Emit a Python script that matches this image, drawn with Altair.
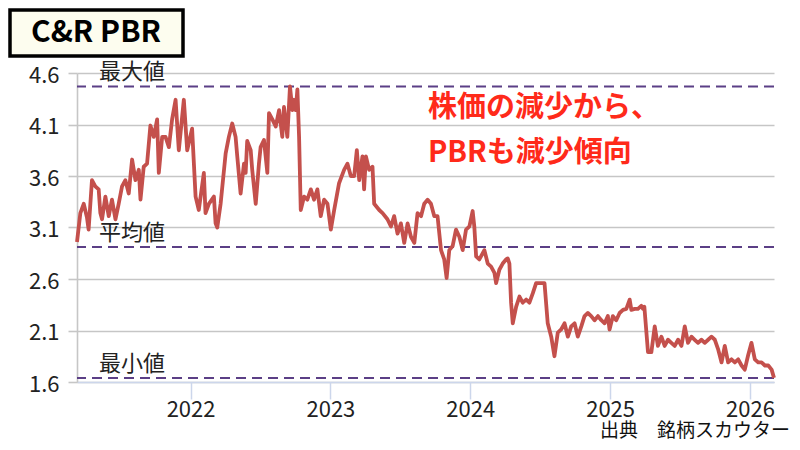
import altair as alt
import pandas as pd

# ---- data ----
years = [
    2021.188, 2021.212, 2021.236, 2021.259, 2021.271, 2021.295, 2021.319, 2021.343, 2021.355, 2021.367,
    2021.391, 2021.415, 2021.438, 2021.463, 2021.486, 2021.510, 2021.534, 2021.558, 2021.582, 2021.606,
    2021.630, 2021.642, 2021.665, 2021.689, 2021.713, 2021.737, 2021.761, 2021.773, 2021.797, 2021.821,
    2021.845, 2021.868, 2021.893, 2021.916, 2021.952, 2021.976, 2022.011, 2022.036, 2022.059, 2022.095,
    2022.107, 2022.131, 2022.167, 2022.179, 2022.191, 2022.215, 2022.251, 2022.274, 2022.298, 2022.322,
    2022.334, 2022.358, 2022.382, 2022.394, 2022.405, 2022.430, 2022.441, 2022.466, 2022.489, 2022.501,
    2022.525, 2022.549, 2022.561, 2022.585, 2022.609, 2022.633, 2022.656, 2022.668, 2022.692, 2022.711,
    2022.728, 2022.740, 2022.752, 2022.764, 2022.776, 2022.788, 2022.812, 2022.835, 2022.860, 2022.883,
    2022.907, 2022.931, 2022.955, 2022.979, 2023.003, 2023.027, 2023.062, 2023.098, 2023.122, 2023.146,
    2023.170, 2023.189, 2023.206, 2023.229, 2023.241, 2023.254, 2023.277, 2023.301, 2023.313, 2023.349,
    2023.373, 2023.408, 2023.433, 2023.456, 2023.480, 2023.504, 2023.528, 2023.552, 2023.576, 2023.600,
    2023.623, 2023.648, 2023.671, 2023.695, 2023.719, 2023.743, 2023.766, 2023.791, 2023.814, 2023.831,
    2023.850, 2023.874, 2023.898, 2023.922, 2023.946, 2023.970, 2023.994, 2024.017, 2024.029, 2024.042,
    2024.065, 2024.101, 2024.125, 2024.149, 2024.173, 2024.185, 2024.208, 2024.232, 2024.256, 2024.268,
    2024.280, 2024.292, 2024.304, 2024.328, 2024.352, 2024.375, 2024.400, 2024.423, 2024.447, 2024.471,
    2024.507, 2024.531, 2024.554, 2024.579, 2024.602, 2024.626, 2024.650, 2024.674, 2024.698, 2024.722,
    2024.746, 2024.769, 2024.794, 2024.817, 2024.841, 2024.865, 2024.889, 2024.913, 2024.937, 2024.961,
    2024.984, 2024.996, 2025.020, 2025.044, 2025.068, 2025.092, 2025.116, 2025.140, 2025.152, 2025.176,
    2025.199, 2025.223, 2025.235, 2025.245, 2025.271, 2025.295, 2025.319, 2025.342, 2025.367, 2025.390,
    2025.414, 2025.438, 2025.462, 2025.486, 2025.510, 2025.534, 2025.557, 2025.582, 2025.605, 2025.629,
    2025.653, 2025.677, 2025.701, 2025.725, 2025.749, 2025.772, 2025.797, 2025.820, 2025.844, 2025.868,
    2025.892, 2025.916, 2025.940, 2025.963, 2025.987, 2026.011, 2026.035, 2026.059, 2026.083, 2026.107,
    2026.131, 2026.155, 2026.172,
]
pbr = [
    2.96, 3.24, 3.33, 3.20, 3.08, 3.56, 3.50, 3.47, 3.24, 3.18,
    3.40, 3.21, 3.37, 3.18, 3.33, 3.50, 3.56, 3.43, 3.76, 3.56,
    3.66, 3.37, 3.69, 3.72, 4.09, 3.98, 4.15, 3.63, 3.98, 3.98,
    3.88, 4.15, 4.34, 3.85, 4.34, 3.85, 4.06, 3.40, 3.27, 3.63,
    3.24, 3.33, 3.40, 3.14, 3.10, 3.33, 3.82, 3.98, 4.11, 3.98,
    3.79, 3.43, 3.72, 3.63, 3.94, 3.85, 3.66, 3.33, 3.72, 3.88,
    3.95, 3.63, 4.21, 4.15, 4.08, 4.24, 3.98, 4.27, 3.98, 4.47,
    4.24, 4.34, 4.24, 4.44, 3.98, 3.27, 3.40, 3.37, 3.47, 3.37,
    3.47, 3.21, 3.37, 3.33, 3.08, 3.27, 3.53, 3.66, 3.72, 3.60,
    3.60, 3.85, 3.56, 3.79, 3.47, 3.79, 3.66, 3.69, 3.33, 3.27,
    3.24, 3.18, 3.11, 3.21, 3.04, 3.14, 2.95, 3.14, 3.01, 2.95,
    3.24, 3.21, 3.33, 3.37, 3.33, 3.21, 3.21, 2.88, 2.79, 2.61,
    2.88, 2.92, 3.08, 3.01, 2.88, 3.08, 3.11, 3.26, 3.11, 2.82,
    2.79, 2.88, 2.75, 2.72, 2.66, 2.56, 2.69, 2.75, 2.79, 2.80,
    2.75, 2.37, 2.17, 2.33, 2.43, 2.37, 2.40, 2.37, 2.46, 2.56,
    2.56, 2.56, 2.17, 2.04, 1.85, 2.08, 2.11, 2.17, 2.04, 2.14,
    2.17, 2.04, 2.14, 2.24, 2.27, 2.24, 2.20, 2.24, 2.20, 2.17,
    2.24, 2.11, 2.24, 2.20, 2.27, 2.30, 2.31, 2.40, 2.30, 2.31,
    2.31, 2.34, 2.31, 2.33, 1.89, 1.89, 2.14, 1.95, 2.04, 1.95,
    2.01, 1.98, 1.95, 2.01, 1.95, 2.14, 1.98, 2.04, 2.01, 1.98,
    2.01, 1.98, 2.01, 2.04, 2.01, 1.92, 1.79, 1.95, 1.79, 1.82,
    1.79, 1.82, 1.76, 1.72, 1.86, 1.98, 1.82, 1.79, 1.79, 1.76,
    1.76, 1.72, 1.64,
]
ref_values = [4.47, 2.91, 1.64]
ref_labels = ["最大値", "平均値", "最小値"]
x_ticks = [2022, 2023, 2024, 2025, 2026]
y_ticks = [1.6, 2.1, 2.6, 3.1, 3.6, 4.1, 4.6]
title_text = "C&R PBR"
note_lines = ["株価の減少から、", "PBRも減少傾向"]
source_text = "出典　銘柄スカウター"

FONT = "Noto Sans CJK JP"
W, H = 697, 309

df = pd.DataFrame({"year": years, "pbr": pbr})
ref = pd.DataFrame({"pbr": ref_values, "label": ref_labels})
one = pd.DataFrame({"t": [title_text]})

xscale = alt.Scale(domain=[years[0], years[-1]], nice=False, zero=False)
yscale = alt.Scale(domain=[1.6, 4.6], nice=False, zero=False)

x_axis = alt.Axis(values=x_ticks, format="d", title=None, grid=False,
                  domainColor="#ccd6eb", domainWidth=1.5, tickColor="#ccd6eb",
                  tickWidth=1.5, tickSize=17, labelFontSize=22, labelColor="#222222",
                  labelFont=FONT, labelPadding=0)
y_axis = alt.Axis(values=y_ticks, format=".1f", title=None, grid=True,
                  gridColor="#c6c6c6", gridWidth=1.6, domainColor="#c6c6c6",
                  domainWidth=1.6, tickColor="#c6c6c6", tickWidth=1.6, tickSize=9,
                  labelFontSize=22, labelColor="#222222", labelFont=FONT,
                  labelPadding=9, labelOffset=2)

line = alt.Chart(df).mark_line(color="#c4504c", strokeWidth=3.8, strokeJoin="round").encode(
    x=alt.X("year:Q", scale=xscale, axis=x_axis),
    y=alt.Y("pbr:Q", scale=yscale, axis=y_axis),
)

rules = alt.Chart(ref).mark_rule(color="#5b3f86", strokeWidth=2, strokeDash=[10, 6]).encode(
    y=alt.Y("pbr:Q", scale=yscale)
)

ref_text = alt.Chart(ref).mark_text(align="left", baseline="alphabetic", dy=-7,
                                    fontSize=22, font=FONT, color="#222222").encode(
    x=alt.value(22),
    y=alt.Y("pbr:Q", scale=yscale),
    text="label:N",
)

box = alt.Chart(one).mark_rect(fill="#fdfdef", stroke="#000000", strokeWidth=3.5).encode(
    x=alt.value(-67), x2=alt.value(106), y=alt.value(-63), y2=alt.value(-17)
)
title = alt.Chart(one).mark_text(fontSize=30, fontWeight="bold", font=FONT, color="#000000",
                                 align="center", baseline="middle").encode(
    x=alt.value(19), y=alt.value(-40), text="t:N"
)

note = alt.Chart(one).mark_text(text=note_lines, lineHeight=45, fontSize=29, fontWeight="bold",
                                font=FONT, color="#ff2a1a", align="left", baseline="middle").encode(
    x=alt.value(351), y=alt.value(35)
)

source = alt.Chart(one).mark_text(text=source_text, fontSize=19, font=FONT, color="#111111",
                                  align="right", baseline="middle").encode(
    x=alt.value(713), y=alt.value(358)
)

chart = alt.layer(rules, line, ref_text, box, title, note, source).properties(
    width=W, height=H,
    padding={"left": 69, "top": 65, "right": 18, "bottom": 60},
    autosize=alt.AutoSizeParams(type="none"),
    background="white",
).configure_view(stroke=None)

chart.save("out.html", embed_options={"renderer": "svg", "actions": False})
